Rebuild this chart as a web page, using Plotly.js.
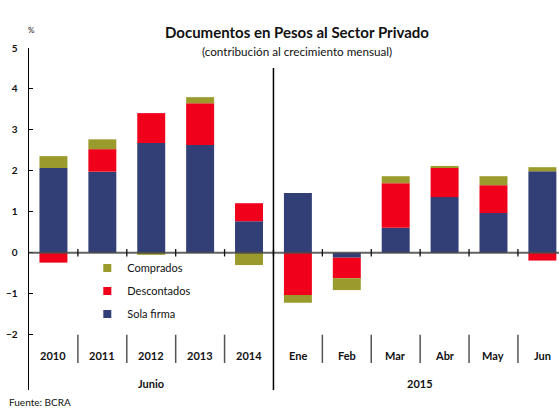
<!DOCTYPE html>
<html>
<head>
<meta charset="utf-8">
<script src="https://cdn.plot.ly/plotly-3.0.1.min.js"></script>
<style>
  html, body { margin: 0; padding: 0; background: #fff; }
  #chart { width: 559px; height: 408px; }
</style>
</head>
<body>
<div id="chart"></div>
<script>
// ---- Data ----
const categories = ['2010', '2011', '2012', '2013', '2014', 'Ene', 'Feb', 'Mar', 'Abr', 'May', 'Jun'];
const solaFirma   = [2.07, 1.98, 2.68, 2.63, 0.77, 1.46, -0.12, 0.61, 1.36, 0.97, 1.99];
const descontados = [-0.24, 0.55, 0.73, 1.02, 0.44, -1.03, -0.50, 1.09, 0.71, 0.68, -0.19];
const comprados   = [0.29, 0.24, -0.05, 0.15, -0.30, -0.19, -0.29, 0.17, 0.05, 0.22, 0.10];
const groupLabels = ['Junio', '2015'];
const groupStart  = [0, 5];
const groupEnd    = [4, 10];
const seriesNames = ['Sola firma', 'Descontados', 'Comprados'];
const seriesColors = ['#323F76', '#F0001B', '#9B9B2D'];

const FONT = 'Lato, "Open Sans", sans-serif';
const seriesValues = [solaFirma, descontados, comprados];

const traces = [];
seriesValues.forEach((vals, i) => {
  traces.push({
    type: 'bar', x: categories, y: vals, name: seriesNames[i],
    marker: { color: seriesColors[i], line: { width: 0 } },
    showlegend: false, hoverinfo: 'x+y+name'
  });
});
// legend entries (small square swatches), listed top-down: Comprados, Descontados, Sola firma
[2, 1, 0].forEach((i) => {
  traces.push({
    type: 'scatter', mode: 'markers', x: [null], y: [null], name: seriesNames[i],
    legendgroup: 'g' + i,
    marker: { symbol: 'square', size: 8, color: seriesColors[i] },
    showlegend: true, hoverinfo: 'skip'
  });
});

const shapes = [];
const annotations = [];
// zero line
shapes.push({ type: 'line', xref: 'paper', x0: 0, x1: 1, yref: 'y', y0: 0, y1: 0,
  line: { color: 'rgba(70,70,70,0.85)', width: 2 }, layer: 'above' });
// boundaries between categories
for (let i = 0; i < categories.length - 1; i++) {
  const b = i + 0.5;
  shapes.push({ type: 'line', xref: 'x', x0: b, x1: b, yref: 'y', y0: -0.09, y1: 0.09,
    line: { color: '#111', width: 1.3 }, layer: 'above' });
  if (groupEnd.indexOf(i) >= 0 && i !== categories.length - 1) {
    shapes.push({ type: 'line', xref: 'x', x0: b, x1: b, yref: 'y', y0: 4.51, y1: -3.35,
      line: { color: '#000', width: 1.5 }, layer: 'above' });
  } else {
    shapes.push({ type: 'line', xref: 'x', x0: b, x1: b, yref: 'y', y0: -2.0, y1: -2.69,
      line: { color: '#555', width: 1.5 }, layer: 'above' });
  }
}
// category labels (positioned by category index)
categories.forEach((c, i) => {
  annotations.push({ x: i, y: -2.5, xref: 'x', yref: 'y', text: '<b>' + c + '</b>',
    showarrow: false, font: { family: FONT, size: 11, color: '#111' }, xanchor: 'center', yanchor: 'middle' });
});
// group labels
groupLabels.forEach((g, k) => {
  annotations.push({ x: (groupStart[k] + groupEnd[k]) / 2, y: -3.19, xref: 'x', yref: 'y',
    text: '<b>' + g + '</b>', showarrow: false, font: { family: FONT, size: 11, color: '#111' },
    xanchor: 'center', yanchor: 'middle' });
});
// titles and notes
annotations.push({ xref: 'paper', yref: 'paper', x: 0.505, y: 1.047, text: '<b>Documentos en Pesos al Sector Privado</b>',
  showarrow: false, font: { family: FONT, size: 15, color: '#111' }, xanchor: 'center', yanchor: 'middle' });
annotations.push({ xref: 'paper', yref: 'paper', x: 0.505, y: 0.991, text: '(contribución al crecimiento mensual)',
  showarrow: false, font: { family: FONT, size: 11.7, color: '#111' }, xanchor: 'center', yanchor: 'middle' });
annotations.push({ xref: 'paper', yref: 'paper', x: 0.004, y: 1.053, text: '%',
  showarrow: false, font: { family: FONT, size: 8, color: '#111' }, xanchor: 'center', yanchor: 'middle' });
annotations.push({ xref: 'paper', yref: 'paper', x: -0.04, y: -0.056, text: 'Fuente: BCRA',
  showarrow: false, font: { family: FONT, size: 10, color: '#111' }, xanchor: 'left', yanchor: 'bottom',
  borderpad: 0 });

const layout = {
  width: 559, height: 408,
  margin: { l: 29, r: 0, t: 48, b: 18, pad: 0 },
  paper_bgcolor: '#fff', plot_bgcolor: '#fff',
  barmode: 'relative', bargap: 0.428,
  showlegend: true,
  legend: { x: 0.11, y: 0.399, xanchor: 'left', yanchor: 'top', bgcolor: 'rgba(0,0,0,0)',
    font: { family: FONT, size: 11, color: '#111' }, tracegroupgap: 4, itemwidth: 30 },
  xaxis: { type: 'category', categoryorder: 'array', categoryarray: categories,
    range: [-0.5, 10.34], showgrid: false, zeroline: false, showline: false,
    showticklabels: false, ticks: '', fixedrange: true },
  yaxis: { range: [-3.35, 5], tickvals: [-2, -1, 0, 1, 2, 3, 4, 5], showgrid: false,
    zeroline: false, showline: true, linecolor: '#000', linewidth: 1.5,
    ticks: 'inside', ticklen: 4, tickcolor: '#000', tickwidth: 1,
    tickfont: { family: FONT, size: 10, color: '#111', weight: 'bold' },
    ticklabelstandoff: 8, fixedrange: true },
  shapes: shapes, annotations: annotations
};

Plotly.newPlot('chart', traces, layout, { displayModeBar: false, staticPlot: true });
</script>
</body>
</html>
